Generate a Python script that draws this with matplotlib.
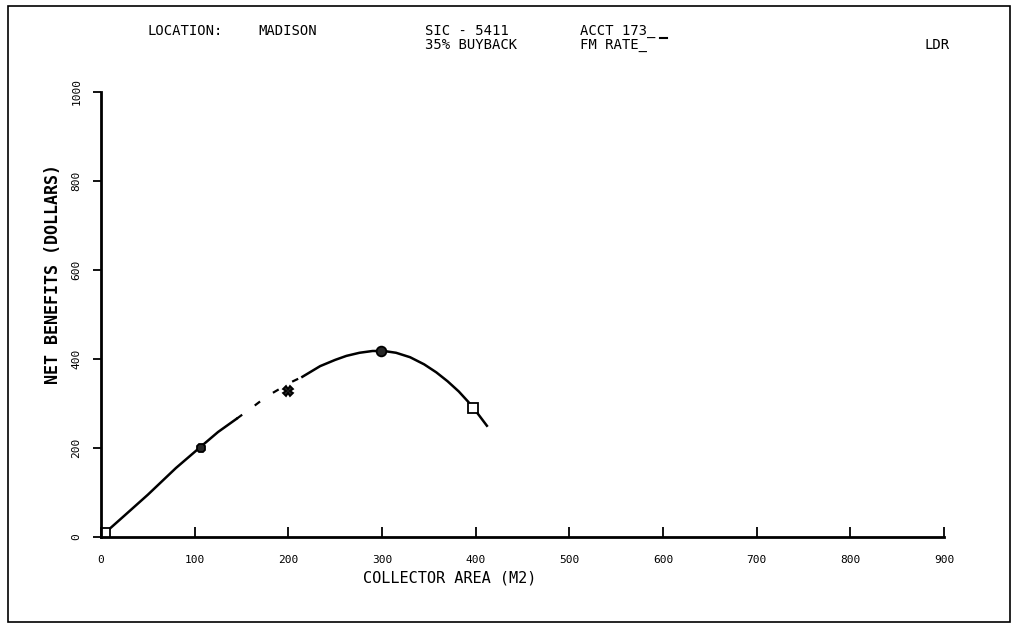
import numpy as np
import matplotlib
matplotlib.use("Agg")
import matplotlib.pyplot as plt
from matplotlib.patches import Rectangle
from matplotlib.lines import Line2D

# measured points (collector area m2, net benefits dollars)
pt_x = [4, 107, 200, 299, 397]
pt_y = [10, 200, 327, 418, 289]
pt_marker = ["s", "8", "X", "o", "s"]
pt_fill = ["white", "0.15", "0.15", "0.15", "white"]

# fitted curve (solid part, broken part, solid part)
curve1_x = [2, 25, 50, 80, 106, 125, 145]
curve1_y = [5, 48, 95, 155, 202, 236, 266]
curve2_x = [145, 162, 177, 190, 205, 215]
curve2_y = [266, 292, 316, 332, 350, 360]
curve3_x = [215, 234, 250, 262, 276, 290, 302, 315, 330, 345, 358, 370, 382, 392, 402, 412]
curve3_y = [360, 384, 398, 407, 414, 418, 418, 414, 404, 388, 370, 350, 327, 304, 278, 250]

x_ticks = [0, 100, 200, 300, 400, 500, 600, 700, 800, 900]
y_ticks = [0, 200, 400, 600, 800, 1000]

font = "DejaVu Sans Mono"


def main():
    fig = plt.figure(figsize=(10.18, 6.3), dpi=100)
    ax = fig.add_axes([0.0992, 0.1476, 0.8281, 0.7064])

    ax.plot(curve1_x, curve1_y, color="black", lw=1.8)
    ax.plot(curve2_x, curve2_y, color="black", lw=1.6, ls=(0, (3, 7)))
    ax.plot(curve3_x, curve3_y, color="black", lw=1.8)
    for x, y, m, f in zip(pt_x, pt_y, pt_marker, pt_fill):
        ax.plot(x, y, marker=m, color="black", ms=7, mfc=f, mec="black", mew=1.3)

    ax.set_xlim(0, 900)
    ax.set_ylim(0, 1000)
    ax.set_xticks(x_ticks)
    ax.set_yticks(y_ticks)
    ax.set_xticklabels([str(v) for v in x_ticks], fontsize=8, family=font)
    ax.set_yticklabels([str(v) for v in y_ticks], fontsize=8, family=font,
                       rotation=90, va="center")
    ax.tick_params(axis="x", direction="in", length=7, width=1.3, pad=13)
    ax.tick_params(axis="y", direction="out", length=6, width=1.3, pad=8)
    for s in ["top", "right"]:
        ax.spines[s].set_visible(False)
    for s in ["left", "bottom"]:
        ax.spines[s].set_linewidth(2)

    ax.set_xlabel("COLLECTOR AREA (M2)", fontsize=11, family=font)
    ax.xaxis.set_label_coords(0.414, -0.075)
    ax.set_ylabel("NET BENEFITS (DOLLARS)", fontsize=12, family=font,
                  fontweight="bold")
    ax.yaxis.set_label_coords(-0.046, 0.59)

    fig.text(0.145, 0.945, "LOCATION:", fontsize=10, family=font)
    fig.text(0.254, 0.945, "MADISON", fontsize=10, family=font)
    fig.text(0.417, 0.945, "SIC - 5411", fontsize=10, family=font)
    fig.text(0.417, 0.922, "35% BUYBACK", fontsize=10, family=font)
    fig.text(0.570, 0.945, "ACCT 173_", fontsize=10, family=font)
    fig.text(0.570, 0.922, "FM RATE_", fontsize=10, family=font)
    fig.text(0.908, 0.922, "LDR", fontsize=10, family=font)
    # small over-bar after FM RATE_
    fig.add_artist(Line2D([0.648, 0.655], [0.940, 0.940], color="black",
                          lw=1.5, transform=fig.transFigure))

    fig.patches.append(Rectangle((0.008, 0.013), 0.984, 0.978, fill=False,
                                 ec="black", lw=1.2, transform=fig.transFigure))

    fig.savefig("out.png", dpi=100)


if __name__ == "__main__":
    main()
